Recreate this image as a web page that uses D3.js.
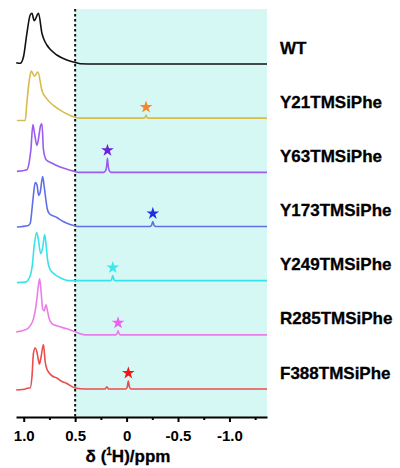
<!DOCTYPE html>
<meta charset="utf-8">
<style>
  body { margin: 0; background: #fff; }
  .trace { fill: none; stroke-width: 1.6px; stroke-linejoin: round; }
  .axis path, .axis line { stroke: #000; stroke-width: 2px; }
  .axis text { font: bold 15px Arial, "Liberation Sans", sans-serif; fill: #000; }
  .label { font: bold 17px Arial, "Liberation Sans", sans-serif; fill: #000; stroke: #000; stroke-width: 0.3px; }
</style>
<svg width="400" height="468"></svg>
<script src="https://cdn.jsdelivr.net/npm/d3@7"></script>
<script>
  // sample names, top to bottom
  const samples = ["WT", "Y21TMSiPhe", "Y63TMSiPhe", "Y173TMSiPhe", "Y249TMSiPhe", "R285TMSiPhe", "F388TMSiPhe"];
  const lineColors = ["#111111", "#d6bc4a", "#9a5cf0", "#5f6fe6", "#38e2ea", "#ea7ee8", "#ea4e4e"];
  const starColors = [null, "#f5872a", "#6a22dc", "#1f2ee0", "#3ae8ee", "#f25ef0", "#f01414"];

  // [ppm, intensity]
  const wt = [[1.073, 1.3], [1.034, 0.7], [1.002, 7.3], [0.969, 30.7], [0.937, 49], [0.920, 50.7], [0.898, 43.3],
    [0.856, 50.7], [0.823, 30.7], [0.801, 24], [0.775, 19], [0.743, 14.7], [0.678, 9], [0.581, 4], [0.517, 2],
    [0.451, 0.3], [0.30, 0], [-1.365, 0]];
  const y21 = [[1.066, -2.3], [0.985, -2.3], [0.969, 16], [0.944, 39.3], [0.927, 47], [0.895, 42], [0.862, 46],
    [0.823, 27.7], [0.775, 19.3], [0.711, 12.7], [0.614, 6], [0.532, 2], [0.451, 0], [-0.165, 0], [-0.178, 0.6],
    [-0.189, 3], [-0.200, 0.6], [-0.215, 0], [-1.365, 0]];
  const y63 = [[1.066, 1], [0.969, 2.7], [0.947, 10], [0.930, 23], [0.911, 47.7], [0.895, 39], [0.872, 27],
    [0.859, 32], [0.835, 47], [0.823, 48.5], [0.808, 22.7], [0.782, 12.7], [0.728, 9.3], [0.646, 5.3], [0.532, 1.7],
    [0.470, 0], [0.225, 0], [0.205, 1.5], [0.194, 6], [0.186, 14], [0.178, 6], [0.167, 1.5], [0.150, 0], [-1.365, 0]];
  const y173 = [[1.066, -0.5], [0.956, 1], [0.937, 3], [0.917, 20], [0.905, 32], [0.888, 44], [0.872, 42],
    [0.854, 31], [0.840, 34], [0.816, 50], [0.801, 40], [0.786, 28], [0.772, 18], [0.752, 13], [0.678, 9],
    [0.617, 5], [0.549, 2], [0.471, 0], [-0.225, 0], [-0.242, 1], [-0.255, 5], [-0.268, 1], [-0.285, 0], [-1.365, 0]];
  const y249 = [[1.066, -2], [0.985, -1.5], [0.937, 5], [0.917, 15], [0.898, 35], [0.874, 48], [0.859, 42],
    [0.835, 27], [0.816, 33], [0.796, 46], [0.782, 35], [0.767, 20], [0.743, 11], [0.694, 6], [0.646, 3],
    [0.549, 0], [0.160, 0], [0.146, 1], [0.134, 5], [0.122, 1], [0.108, 0], [-1.365, 0]];
  const r285 = [[1.073, 3], [0.985, 5], [0.937, 9], [0.905, 16], [0.879, 30], [0.859, 48], [0.845, 56],
    [0.830, 42], [0.816, 26], [0.801, 24], [0.784, 30], [0.769, 24], [0.752, 16], [0.723, 11], [0.678, 9],
    [0.581, 6], [0.500, 3], [0.403, 0], [0.105, 0], [0.094, 1], [0.083, 4], [0.072, 1], [0.061, 0], [-1.365, 0]];
  const f388 = [[1.073, -1], [1.015, -0.5], [0.985, 0], [0.956, 1], [0.937, 1], [0.920, 12], [0.905, 36],
    [0.888, 41], [0.872, 37], [0.859, 30], [0.847, 25], [0.833, 31], [0.808, 44.5], [0.791, 27], [0.775, 20],
    [0.759, 17], [0.723, 13], [0.678, 11], [0.636, 8], [0.581, 5.5], [0.500, 1], [0.403, 0], [0.210, 0],
    [0.192, 2.3], [0.175, 0], [0.010, 0], [-0.005, 1.5], [-0.017, 8], [-0.030, 1.5], [-0.045, 0], [-1.365, 0]];
  const spectra = [wt, y21, y63, y173, y249, r285, f388];

  // starred peaks: [ppm, peak height]
  const starPeaks = [null, [-0.189, 3], [0.186, 14], [-0.255, 5], [0.134, 5], [0.083, 4], [-0.017, 8]];

  const majorTicks = [1.0, 0.5, 0, -0.5, -1.0];
  const minorTicks = [0.75, 0.25, -0.25, -0.75, -1.25];
  const cutoff = 0.5;

  const svg = d3.select("svg");
  const x = d3.scaleLinear().domain([1.075, -1.365]).range([16, 267]);
  const base = d3.scalePoint().domain(samples).range([64, 389]);
  const amp = d3.scaleLinear().domain([0, 50]).range([0, 50]);
  const axisY = 417, plotTop = 9;

  // shaded upfield region
  svg.append("rect")
    .attr("x", x(cutoff)).attr("y", plotTop)
    .attr("width", x(x.domain()[1]) - x(cutoff))
    .attr("height", axisY - plotTop)
    .attr("fill", "#d5f8f4");

  svg.append("line")
    .attr("x1", x(cutoff)).attr("x2", x(cutoff))
    .attr("y1", plotTop).attr("y2", axisY)
    .attr("stroke", "#111").attr("stroke-width", 2)
    .attr("stroke-dasharray", "2.5,2.5");

  samples.forEach((name, i) => {
    const line = d3.line()
      .x(d => x(d[0]))
      .y(d => base(name) - amp(d[1]))
      .curve(d3.curveMonotoneX);
    svg.append("path")
      .attr("class", "trace")
      .attr("stroke", lineColors[i])
      .attr("d", line(spectra[i]));

    svg.append("text")
      .attr("class", "label")
      .attr("x", 280)
      .attr("y", base(name) - 16)
      .attr("dominant-baseline", "central")
      .text(name);

    if (starPeaks[i]) {
      const [p, h] = starPeaks[i];
      svg.append("path")
        .attr("d", d3.symbol(d3.symbolStar, 50)())
        .attr("transform", `translate(${x(p)},${base(name) - amp(h + 8)})`)
        .attr("fill", starColors[i]);
    }
  });

  const fmt = d => d === 0 ? "0" : d.toFixed(1);
  svg.append("g")
    .attr("class", "axis")
    .attr("transform", `translate(0,${axisY})`)
    .call(d3.axisBottom(x).tickValues(majorTicks).tickFormat(fmt).tickSize(5).tickSizeOuter(0).tickPadding(8));
  svg.append("g")
    .attr("class", "axis")
    .attr("transform", `translate(0,${axisY})`)
    .call(d3.axisBottom(x).tickValues(minorTicks).tickFormat("").tickSize(3).tickSizeOuter(0))
    .select(".domain").remove();

  const title = svg.append("text")
    .attr("class", "label")
    .attr("x", 128).attr("y", 462)
    .attr("text-anchor", "middle");
  title.append("tspan").text("δ (");
  title.append("tspan").attr("font-size", 10).attr("dy", -7).text("1");
  title.append("tspan").attr("dy", 7).text("H)/ppm");
</script>
